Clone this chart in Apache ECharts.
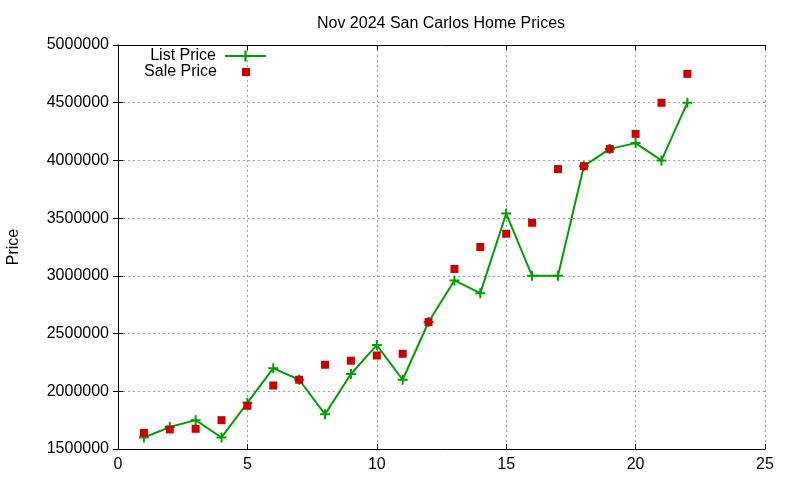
<!DOCTYPE html>
<html>
<head>
<meta charset="utf-8">
<script src="https://cdn.jsdelivr.net/npm/echarts@6/dist/echarts.min.js"></script>
<style>
  html, body { margin: 0; padding: 0; background: #fff; }
  #chart { width: 800px; height: 480px; }
</style>
</head>
<body>
<div id="chart"></div>
<script>
// data
const houseIndex = [1, 2, 3, 4, 5, 6, 7, 8, 9, 10, 11, 12, 13, 14, 15, 16, 17, 18, 19, 20, 21, 22];
const listPrice = [1600000, 1690000, 1750000, 1600000, 1900000, 2200000, 2100000, 1800000, 2150000, 2400000, 2100000,
  2600000, 2960000, 2850000, 3540000, 3000000, 3000000, 3950000, 4100000, 4150000, 4000000, 4500000];
const salePrice = [1640000, 1670000, 1675000, 1750000, 1875000, 2050000, 2100000, 2230000, 2265000, 2310000, 2325000,
  2600000, 3060000, 3250000, 3365000, 3460000, 3925000, 3950000, 4100000, 4230000, 4500000, 4750000];
const xTicks = [0, 5, 10, 15, 20, 25];
const yTicks = [1500000, 2000000, 2500000, 3000000, 3500000, 4000000, 4500000, 5000000];

const FONT = '"Liberation Sans", Arial, sans-serif';
const GREEN = '#00a000';
const RED = '#cc0000';
// plus sign as a filled cross, gnuplot point type 1
const PLUS = 'path://M4,0h2v4h4v2h-4v4h-2v-4h-4v-2h4z';

const chart = echarts.init(document.getElementById('chart'), null, { renderer: 'canvas' });

const xAxisBase = {
  type: 'value',
  min: xTicks[0],
  max: xTicks[xTicks.length - 1],
  interval: 5,
  axisLine: { show: true, lineStyle: { color: '#000', width: 1 } },
  axisTick: { show: true, inside: true, length: 5, lineStyle: { color: '#000' } },
  splitLine: { show: false }
};
const yAxisBase = {
  type: 'value',
  min: yTicks[0],
  max: yTicks[yTicks.length - 1],
  interval: 500000,
  axisLine: { show: true, lineStyle: { color: '#000', width: 1 } },
  axisTick: { show: true, inside: true, length: 5, lineStyle: { color: '#000' } },
  splitLine: { show: false }
};
const gridLine = { show: true, lineStyle: { color: '#a0a0a0', type: [2, 3], width: 1 } };

chart.setOption({
  animation: false,
  backgroundColor: '#fff',
  textStyle: { fontFamily: FONT },
  title: {
    text: 'Nov 2024 San Carlos Home Prices',
    left: 436,
    top: 11,
    textAlign: 'center',
    textStyle: { fontFamily: FONT, fontSize: 16, fontWeight: 'normal', color: '#000' }
  },
  legend: [
    {
      data: ['List Price'],
      align: 'right',
      right: 533,
      top: 48,
      padding: 0,
      itemWidth: 41,
      itemHeight: 14,
      textStyle: { fontFamily: FONT, fontSize: 16, color: '#000', padding: [0, 4, 0, 0] }
    },
    {
      data: [{ name: 'Sale Price', icon: 'rect' }],
      align: 'right',
      right: 550,
      top: 64,
      padding: 0,
      itemWidth: 8,
      itemHeight: 8,
      textStyle: { fontFamily: FONT, fontSize: 16, color: '#000', padding: [0, 20, 0, 0] }
    }
  ],
  grid: { left: 118, right: 35, top: 45, bottom: 31, containLabel: false, outerBoundsMode: 'none' },
  xAxis: [
    Object.assign({}, xAxisBase, {
      position: 'bottom',
      axisLabel: { color: '#000', fontFamily: FONT, fontSize: 16, margin: 8 },
      splitLine: gridLine
    }),
    Object.assign({}, xAxisBase, { position: 'top', axisLabel: { show: false } })
  ],
  yAxis: [
    Object.assign({}, yAxisBase, {
      position: 'left',
      name: 'Price',
      nameLocation: 'middle',
      nameGap: 96,
      nameRotate: 90,
      nameTextStyle: { color: '#000', fontFamily: FONT, fontSize: 16 },
      axisLabel: { color: '#000', fontFamily: FONT, fontSize: 16, margin: 9, formatter: v => String(v) },
      splitLine: gridLine
    }),
    Object.assign({}, yAxisBase, { position: 'right', axisLabel: { show: false } })
  ],
  series: [
    {
      name: 'List Price',
      type: 'line',
      data: houseIndex.map((x, i) => [x, listPrice[i]]),
      symbol: PLUS,
      symbolSize: 10,
      showAllSymbol: true,
      lineStyle: { color: GREEN, width: 2 },
      itemStyle: { color: GREEN },
      z: 3
    },
    {
      name: 'Sale Price',
      type: 'scatter',
      data: houseIndex.map((x, i) => [x, salePrice[i]]),
      symbol: 'rect',
      symbolSize: 8,
      itemStyle: { color: RED, opacity: 1 },
      z: 4
    }
  ]
});
</script>
</body>
</html>
